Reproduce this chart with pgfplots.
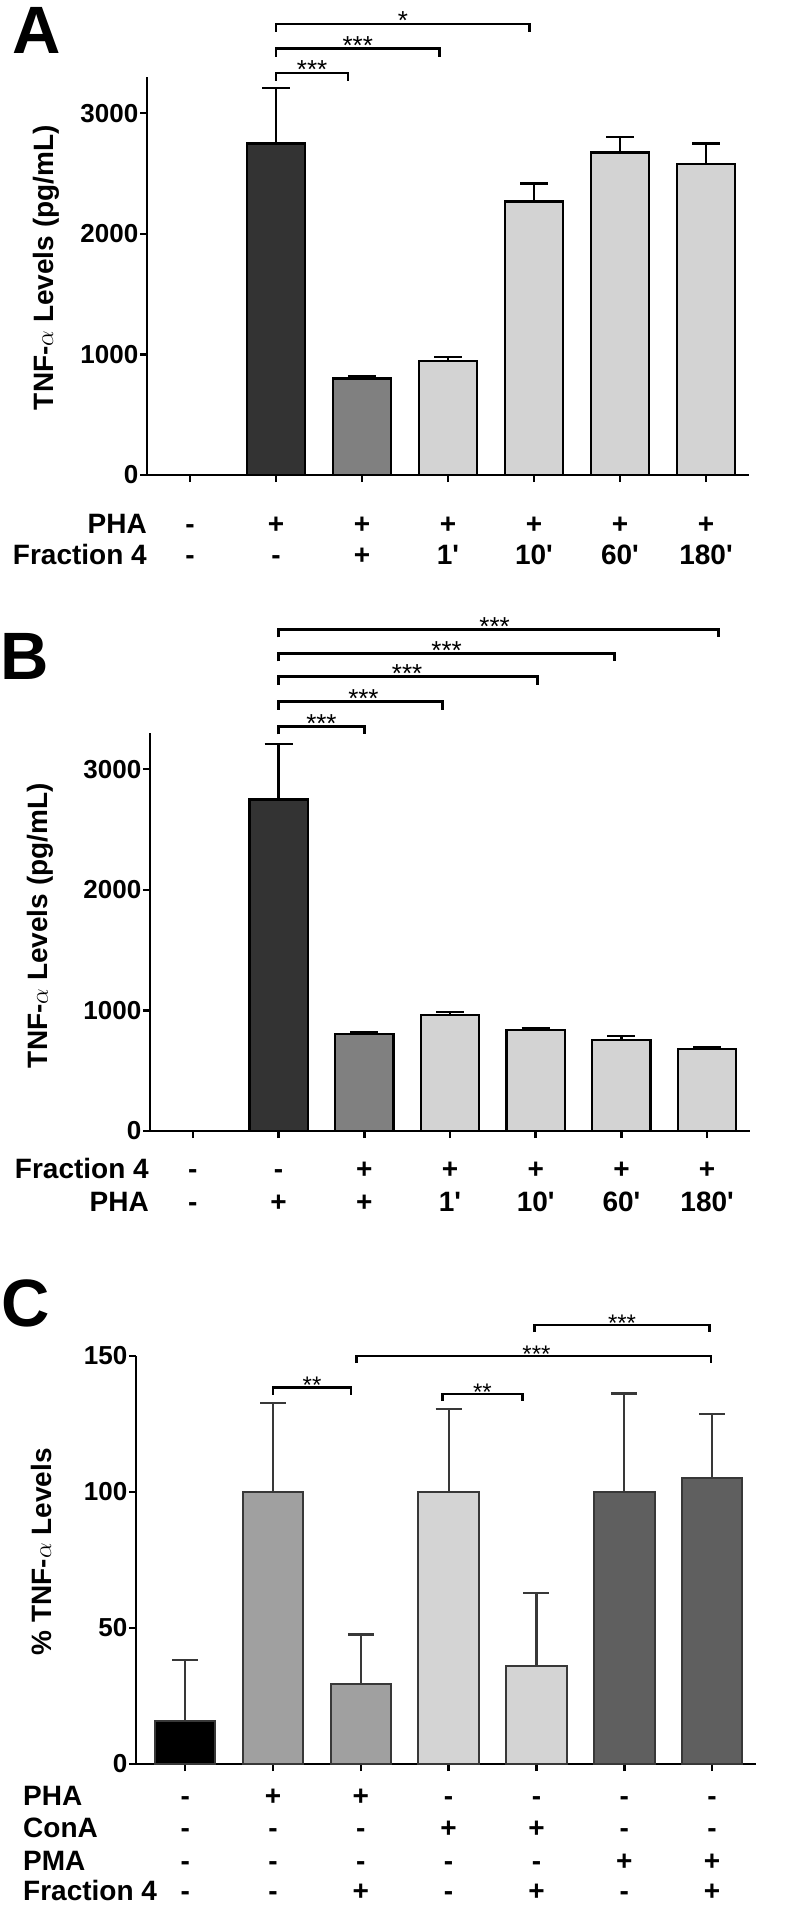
\documentclass[border=0pt]{standalone}
\usepackage{fontspec}
\setmainfont{Liberation Sans}
\usepackage{pgfplots}
\pgfplotsset{compat=1.18}

\definecolor{dA}{HTML}{333333}
\definecolor{mA}{HTML}{808080}
\definecolor{lA}{HTML}{D3D3D3}
\definecolor{gC}{HTML}{A0A0A0}
\definecolor{lC}{HTML}{D4D4D4}
\definecolor{dC}{HTML}{5F5F5F}
\definecolor{eC}{HTML}{383838}

\newcommand\tickfont{\fontsize{26bp}{28bp}\selectfont\bfseries}
\newcommand\labfont{\fontsize{28bp}{32bp}\selectfont\bfseries}
\newcommand\starfont{\fontsize{26bp}{28bp}\selectfont}
\newcommand\starfontC{\fontsize{24bp}{26bp}\selectfont}
\newcommand\panelfont{\fontsize{67bp}{70bp}\selectfont\bfseries}
\newcommand\pr{\textquotesingle}

\pgfplotsset{
  panel/.style={
    scale only axis, clip=false,
    axis x line*=bottom, axis y line*=left,
    axis line style={line width=2.5bp, black},
    tick align=outside, major tick length=7bp,
    every tick/.style={black, line width=2.5bp},
    xtick={0,...,6}, xticklabels={},
    yticklabel style={font=\tickfont, inner sep=1.5bp},
    every axis y label/.style={font=\labfont, rotate=90, anchor=center},
  },
  bars/.style={ybar, bar width=0.68, bar shift=0pt, line width=2.3bp,
    error bars/y dir=plus, error bars/y explicit,
    error bars/error bar style={line width=2.3bp, black},
    error bars/error mark options={rotate=90, mark size=14bp, line width=2.3bp, black}},
  barsC/.style={ybar, bar width=0.69, bar shift=0pt, line width=2bp, draw=eC,
    error bars/y dir=plus, error bars/y explicit,
    error bars/error bar style={line width=2.2bp, eC},
    error bars/error mark options={rotate=90, mark size=13bp, line width=2.2bp, eC}},
  brk/.style={black, line width=2.5bp, mark=none},
}
\tikzset{
  sgn/.style={font=\labfont, anchor=base, inner sep=0pt},
  star/.style={font=\starfont, anchor=base, inner sep=0pt, yshift=-6bp},
  starC/.style={font=\starfontC, anchor=base, inner sep=0pt, yshift=-6bp},
  rowlab/.style={font=\labfont, anchor=base east, inner sep=0pt},
  rowlabC/.style={font=\labfont, anchor=base west, inner sep=0pt},
}
% one row of +/- signs: #1 = vertical shift, #2..#8 = labels of categories 0..6
\newcommand\srow[8]{%
  \node[sgn,yshift=#1] at (axis cs:0,0) {#2};
  \node[sgn,yshift=#1] at (axis cs:1,0) {#3};
  \node[sgn,yshift=#1] at (axis cs:2,0) {#4};
  \node[sgn,yshift=#1] at (axis cs:3,0) {#5};
  \node[sgn,yshift=#1] at (axis cs:4,0) {#6};
  \node[sgn,yshift=#1] at (axis cs:5,0) {#7};
  \node[sgn,yshift=#1] at (axis cs:6,0) {#8};}

\begin{document}
\begin{tikzpicture}
\useasboundingbox (0,0) rectangle (800bp,-1905bp);

% ---------------- Panel A ----------------
\node[font=\panelfont, anchor=base west, inner sep=0pt] at (12bp,-53bp) {A};
\begin{axis}[panel, at={(147bp,-475bp)}, anchor=south west,
  width=602bp, height=398bp, xmin=-0.5, xmax=6.5, ymin=0, ymax=3300,
  ytick={0,1000,2000,3000}, yticklabels={0,1000,2000,3000},
  ylabel={TNF-$\alpha$ Levels (pg/mL)},
  every axis y label/.append style={at={(rel axis cs:-0.168,0.521)}}]
\addplot[fill=dA, draw=black, bars] table[x=x, y=y, y error=e] {
x y e
1 2748 460
};
\addplot[fill=mA, draw=black, bars] table[x=x, y=y, y error=e] {
x y e
2 800 21
};
\addplot[fill=lA, draw=black, bars] table[x=x, y=y, y error=e] {
x y e
3 943 35
4 2268 148
5 2674 131
6 2576 172
};
\addplot[brk] coordinates {(1,3268) (1,3334) (1.84,3334) (1.84,3268)};
\addplot[brk] coordinates {(1,3470) (1,3536) (2.90,3536) (2.90,3470)};
\addplot[brk] coordinates {(1,3674) (1,3740) (3.95,3740) (3.95,3674)};
\node[star] at (axis cs:1.42,3334) {***};
\node[star] at (axis cs:1.95,3536) {***};
\node[star] at (axis cs:2.475,3740) {*};
\srow{-58bp}{-}{+}{+}{+}{+}{+}{+}
\srow{-89bp}{-}{-}{+}{1\pr}{10\pr}{60\pr}{180\pr}
\node[rowlab, yshift=-58bp] at (rel axis cs:0,0) {PHA};
\node[rowlab, yshift=-89bp] at (rel axis cs:0,0) {Fraction 4};
\end{axis}

% ---------------- Panel B ----------------
\node[font=\panelfont, anchor=base west, inner sep=0pt] at (0bp,-679bp) {B};
\begin{axis}[panel, at={(150bp,-1131bp)}, anchor=south west,
  width=600bp, height=398bp, xmin=-0.5, xmax=6.5, ymin=0, ymax=3300,
  ytick={0,1000,2000,3000}, yticklabels={0,1000,2000,3000},
  ylabel={TNF-$\alpha$ Levels (pg/mL)},
  every axis y label/.append style={at={(rel axis cs:-0.182,0.516)}}]
\addplot[fill=dA, draw=black, bars] table[x=x, y=y, y error=e] {
x y e
1 2748 459
};
\addplot[fill=mA, draw=black, bars] table[x=x, y=y, y error=e] {
x y e
2 803 17
};
\addplot[fill=lA, draw=black, bars] table[x=x, y=y, y error=e] {
x y e
3 961 23
4 836 16
5 754 33
6 679 19
};
\addplot[brk] coordinates {(1,3288) (1,3354) (2.00,3354) (2.00,3288)};
\addplot[brk] coordinates {(1,3494) (1,3560) (2.91,3560) (2.91,3494)};
\addplot[brk] coordinates {(1,3702) (1,3768) (4.02,3768) (4.02,3702)};
\addplot[brk] coordinates {(1,3895) (1,3961) (4.92,3961) (4.92,3895)};
\addplot[brk] coordinates {(1,4092) (1,4158) (6.13,4158) (6.13,4092)};
\node[star] at (axis cs:1.50,3354) {***};
\node[star] at (axis cs:1.99,3560) {***};
\node[star] at (axis cs:2.50,3768) {***};
\node[star] at (axis cs:2.96,3961) {***};
\node[star] at (axis cs:3.52,4158) {***};
\srow{-47bp}{-}{-}{+}{+}{+}{+}{+}
\srow{-80bp}{-}{+}{+}{1\pr}{10\pr}{60\pr}{180\pr}
\node[rowlab, yshift=-47bp, xshift=-1bp] at (rel axis cs:0,0) {Fraction 4};
\node[rowlab, yshift=-80bp, xshift=-1bp] at (rel axis cs:0,0) {PHA};
\end{axis}

% ---------------- Panel C ----------------
\node[font=\panelfont, anchor=base west, inner sep=0pt] at (1bp,-1326bp) {C};
\begin{axis}[panel, at={(136bp,-1764bp)}, anchor=south west,
  width=620bp, height=408bp, xmin=-0.56, xmax=6.5, ymin=0, ymax=150,
  ytick={0,50,100,150}, yticklabels={0,50,100,150},
  ylabel={\% TNF-$\alpha$ Levels},
  every axis y label/.append style={at={(rel axis cs:-0.153,0.52)}}]
\addplot[fill=black, barsC] table[x=x, y=y, y error=e] {
x y e
0 16.0 22.3
};
\addplot[fill=gC, barsC] table[x=x, y=y, y error=e] {
x y e
1 100 32.7
2 29.6 18.0
};
\addplot[fill=lC, barsC] table[x=x, y=y, y error=e] {
x y e
3 100 30.4
4 36.0 26.8
};
\addplot[fill=dC, barsC] table[x=x, y=y, y error=e] {
x y e
5 100 36.2
6 105.3 23.3
};
\addplot[brk] coordinates {(1,135.8) (1,138.4) (1.89,138.4) (1.89,135.8)};
\addplot[brk] coordinates {(2.93,133.4) (2.93,136.0) (3.84,136.0) (3.84,133.4)};
\addplot[brk] coordinates {(1.95,147.4) (1.95,150.0) (5.99,150.0) (5.99,147.4)};
\addplot[brk] coordinates {(3.98,158.8) (3.98,161.4) (5.97,161.4) (5.97,158.8)};
\node[starC] at (axis cs:1.445,138.4) {**};
\node[starC] at (axis cs:3.385,136.0) {**};
\node[starC] at (axis cs:4.00,150.0) {***};
\node[starC] at (axis cs:4.975,161.4) {***};
\srow{-41bp}{-}{+}{+}{-}{-}{-}{-}
\srow{-73bp}{-}{-}{-}{+}{+}{-}{-}
\srow{-106bp}{-}{-}{-}{-}{-}{+}{+}
\srow{-136bp}{-}{-}{+}{-}{+}{-}{+}
\node[rowlabC, yshift=-41bp, xshift=-113bp] at (rel axis cs:0,0) {PHA};
\node[rowlabC, yshift=-73bp, xshift=-113bp] at (rel axis cs:0,0) {ConA};
\node[rowlabC, yshift=-106bp, xshift=-113bp] at (rel axis cs:0,0) {PMA};
\node[rowlabC, yshift=-136bp, xshift=-113bp] at (rel axis cs:0,0) {Fraction 4};
\end{axis}
\end{tikzpicture}
\end{document}
